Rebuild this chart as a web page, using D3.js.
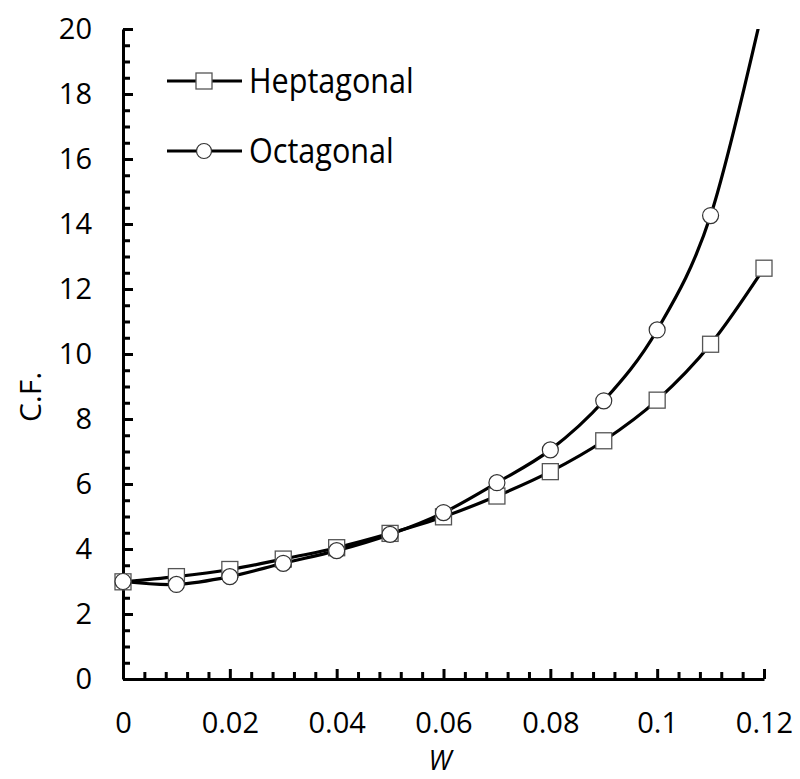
<!DOCTYPE html>
<html lang="en">
<head>
<meta charset="utf-8">
<title>C.F. vs W</title>
<script src="https://cdn.jsdelivr.net/npm/d3@7/dist/d3.min.js"></script>
<style>
  body { margin: 0; background: #fff; }
  svg text { font-family: "Open Sans", sans-serif; fill: #000; }
  .axis path, .axis line { stroke: #000; stroke-width: 3; }
</style>
</head>
<body>
<div id="chart"></div>
<script>
// data
var wValues = [0, 0.01, 0.02, 0.03, 0.04, 0.05, 0.06, 0.07, 0.08, 0.09, 0.1, 0.11, 0.12];
var heptagonal = [2.99, 3.15, 3.37, 3.69, 4.04, 4.48, 4.99, 5.63, 6.38, 7.33, 8.58, 10.3, 12.64];
var octagonal = [3.0, 2.91, 3.15, 3.56, 3.95, 4.45, 5.12, 6.04, 7.05, 8.56, 10.74, 14.26, 20.8];
var xTicks = [0, 0.02, 0.04, 0.06, 0.08, 0.1, 0.12];
var xTickLabels = ["0", "0.02", "0.04", "0.06", "0.08", "0.1", "0.12"];
var yTicks = [0, 2, 4, 6, 8, 10, 12, 14, 16, 18, 20];
var seriesNames = ["Heptagonal", "Octagonal"];

var width = 800, height = 779;
var margin = {left: 123, top: 29, right: 36, bottom: 100};
var innerW = width - margin.left - margin.right,
    innerH = height - margin.top - margin.bottom;

var svg = d3.select("#chart").append("svg")
    .attr("width", width)
    .attr("height", height);

var g = svg.append("g")
    .attr("transform", "translate(" + margin.left + "," + margin.top + ")");

var x = d3.scaleLinear().domain([0, 0.12]).range([0, innerW]);
var y = d3.scaleLinear().domain([0, 20]).range([innerH, 0]);

g.append("clipPath").attr("id", "plotclip")
  .append("rect")
    .attr("x", -20).attr("y", 0)
    .attr("width", innerW + 40).attr("height", innerH + 20);

// minor ticks
var xMinor = d3.range(0, 0.1201, 0.004).filter(function(d) {
  return Math.abs(Math.round(d / 0.02) * 0.02 - d) > 1e-6;
});
var yMinor = d3.range(0, 20.01, 0.5).filter(function(d) { return d % 2 !== 0; });

g.append("g").attr("class", "axis")
    .attr("transform", "translate(0," + innerH + ")")
    .call(d3.axisBottom(x).tickValues(xMinor).tickSize(-7).tickSizeOuter(0).tickFormat(""))
    .call(function(s) { s.select(".domain").remove(); });

g.append("g").attr("class", "axis")
    .call(d3.axisLeft(y).tickValues(yMinor).tickSize(-7).tickFormat(""))
    .call(function(s) { s.select(".domain").remove(); });

var xAxis = g.append("g").attr("class", "axis")
    .attr("transform", "translate(0," + innerH + ")")
    .call(d3.axisBottom(x).tickValues(xTicks).tickSize(-10).tickSizeOuter(0)
      .tickFormat(function(d, i) { return xTickLabels[i]; }));
xAxis.selectAll("text")
    .attr("y", 54)
    .attr("dy", 0)
    .style("font-size", "29px");

var yAxis = g.append("g").attr("class", "axis")
    .call(d3.axisLeft(y).tickValues(yTicks).tickSize(-10).tickSizeOuter(0));
yAxis.selectAll("text")
    .attr("x", -31)
    .style("font-size", "29px");

// axis titles
svg.append("text")
    .attr("transform", "translate(41,397) rotate(-90)")
    .attr("text-anchor", "middle")
    .style("font-size", "30px")
    .text("C.F.");

svg.append("text")
    .attr("x", 440)
    .attr("y", 770)
    .attr("text-anchor", "middle")
    .style("font-size", "27px")
    .style("font-style", "italic")
    .text("W");

// lines
var line = d3.line()
    .x(function(d, i) { return x(wValues[i]); })
    .y(function(d) { return y(d); })
    .curve(d3.curveCardinal);

var plot = g.append("g").attr("clip-path", "url(#plotclip)");

[heptagonal, octagonal].forEach(function(vals) {
  plot.append("path")
      .attr("d", line(vals))
      .attr("fill", "none")
      .attr("stroke", "#000")
      .attr("stroke-width", 3.2);
});

function drawSquares(sel, data) {
  sel.selectAll("rect.m").data(data).enter().append("rect")
      .attr("class", "m")
      .attr("x", function(d, i) { return x(wValues[i]) - 8; })
      .attr("y", function(d) { return y(d) - 8; })
      .attr("width", 16).attr("height", 16)
      .attr("fill", "#fff")
      .attr("stroke", "#555")
      .attr("stroke-width", 1.3);
}

function drawCircles(sel, data) {
  sel.selectAll("circle.m").data(data).enter().append("circle")
      .attr("class", "m")
      .attr("cx", function(d, i) { return x(wValues[i]); })
      .attr("cy", function(d) { return y(d); })
      .attr("r", 8)
      .attr("fill", "#fff")
      .attr("stroke", "#333")
      .attr("stroke-width", 1.2);
}

drawSquares(plot.append("g"), heptagonal);
drawCircles(plot.append("g"), octagonal.filter(function(d) { return d <= 20; }));

// legend
var legend = svg.append("g");
var legendY = [81, 151];
seriesNames.forEach(function(name, i) {
  var row = legend.append("g");
  row.append("line")
      .attr("x1", 167).attr("x2", 242)
      .attr("y1", legendY[i]).attr("y2", legendY[i])
      .attr("stroke", "#000").attr("stroke-width", 3.2);
  if (i === 0) {
    row.append("rect")
        .attr("x", 196).attr("y", legendY[i] - 8)
        .attr("width", 16).attr("height", 16)
        .attr("fill", "#fff").attr("stroke", "#555").attr("stroke-width", 1.3);
  } else {
    row.append("circle")
        .attr("cx", 204).attr("cy", legendY[i]).attr("r", 7.5)
        .attr("fill", "#fff").attr("stroke", "#333").attr("stroke-width", 1.2);
  }
  row.append("text")
      .attr("transform", "translate(249," + (legendY[i] + 12) + ") scale(1.02,1.17)")
      .style("font-size", "30px")
      .text(name);
});
</script>
</body>
</html>
